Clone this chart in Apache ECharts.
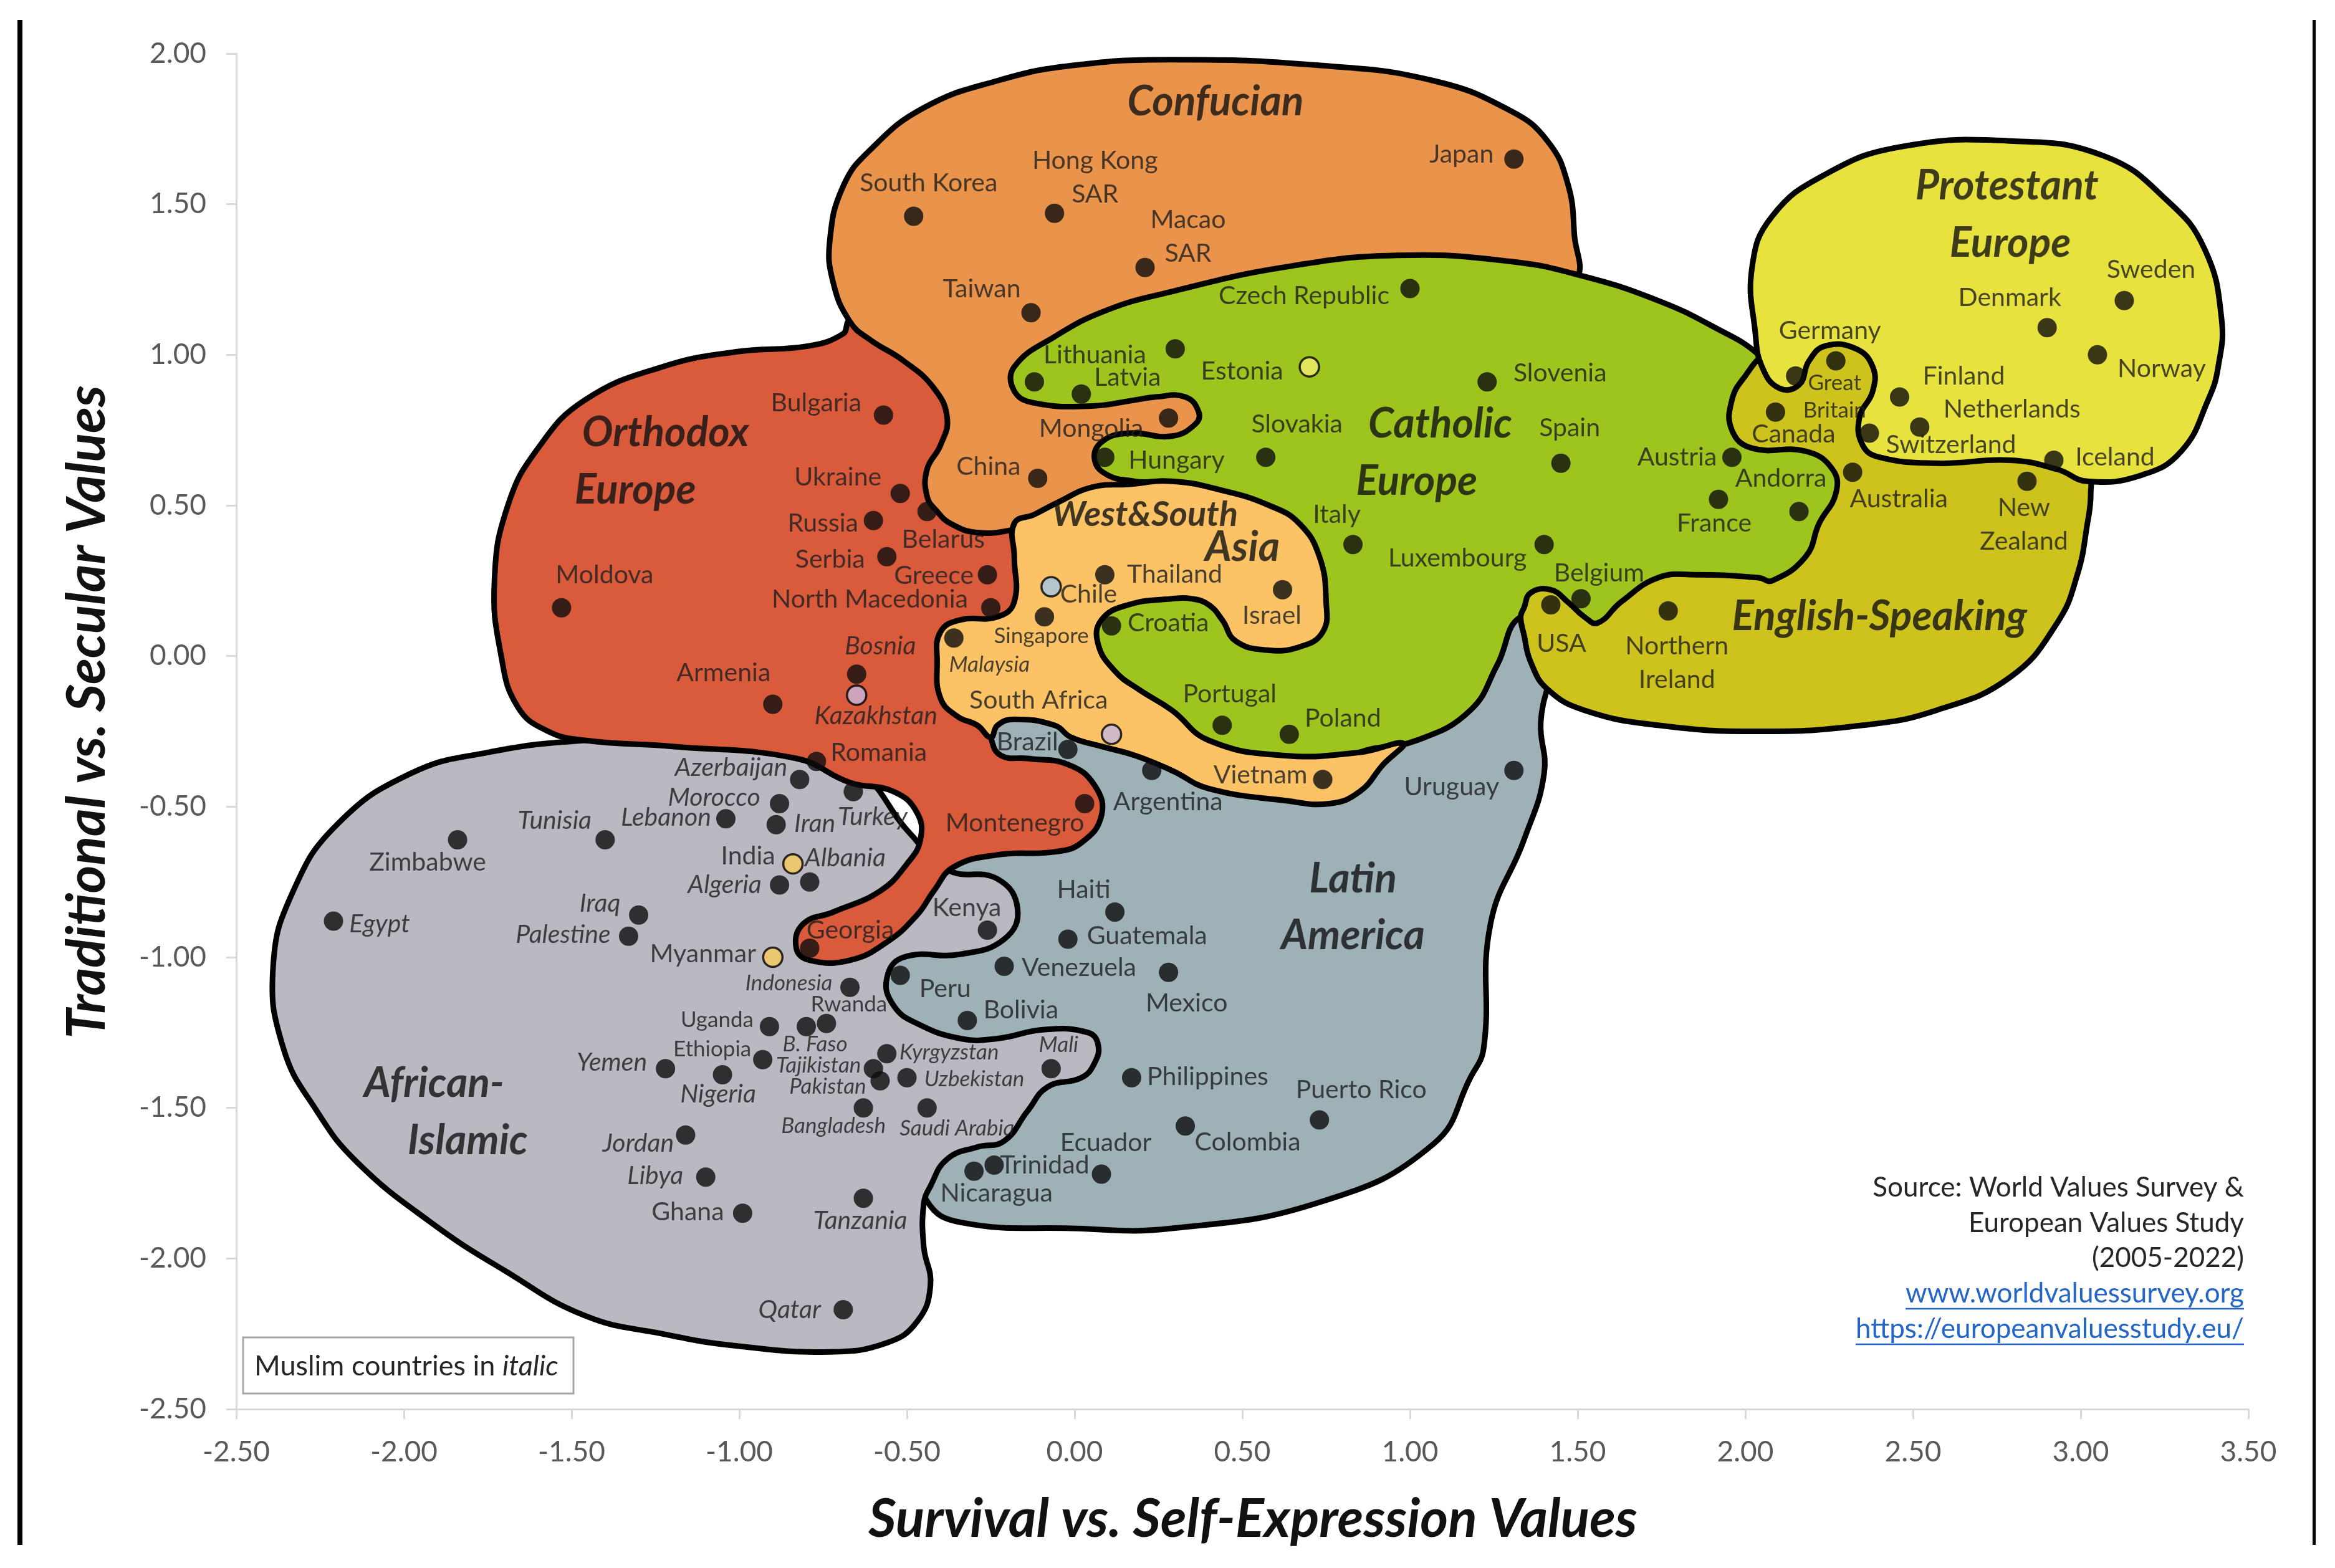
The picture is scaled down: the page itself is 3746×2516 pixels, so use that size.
<!DOCTYPE html>
<html><head><meta charset="utf-8">
<script src="https://cdn.jsdelivr.net/npm/echarts@6/dist/echarts.min.js"></script>
<style>html,body{margin:0;padding:0;background:#fff}#chart{width:3746px;height:2516px}</style>
</head><body><div id="chart"></div>
<script>
// ---------------- DATA ----------------
const countryNames = ['South Korea','Hong Kong SAR','Macao SAR','Taiwan','Japan','China','Mongolia','Lithuania','','Latvia',
 'Estonia','Czech Republic','Slovenia','Slovakia','Hungary','Spain','Austria','Andorra','France','Italy',
 'Luxembourg','Belgium','Croatia','Portugal','Poland','USA','Northern Ireland','Germany','Great Britain','Canada',
 'Australia','New Zealand','Switzerland','Finland','Netherlands','Denmark','Sweden','Norway','Iceland','Bulgaria',
 'Ukraine','Russia','Belarus','Serbia','Greece','North Macedonia','Moldova','Armenia','Bosnia','Kazakhstan',
 'Romania','Montenegro','Georgia','Thailand','Chile','Singapore','Malaysia','Israel','South Africa','Vietnam',
 'Brazil','Argentina','Uruguay','Haiti','Guatemala','Venezuela','Mexico','Peru','Bolivia','Philippines',
 'Puerto Rico','Colombia','Ecuador','Trinidad','Nicaragua','Azerbaijan','Turkey','Morocco','Iran','Lebanon',
 'Tunisia','Zimbabwe','Egypt','India','Albania','Algeria','Iraq','Palestine','Kenya','Myanmar',
 'Indonesia','Rwanda','B. Faso','Uganda','Ethiopia','Yemen','Nigeria','Tajikistan','Kyrgyzstan','Pakistan',
 'Uzbekistan','Mali','Bangladesh','Saudi Arabia','Jordan','Libya','Ghana','Tanzania','Qatar'];
const survivalSelfExpression = [-0.48,-0.06,0.21,-0.13,1.31,-0.11,0.28,0.30,-0.12,0.02,
 0.70,1.00,1.23,0.57,0.09,1.45,1.96,2.16,1.92,0.83,
 1.40,1.51,0.11,0.44,0.64,1.42,1.77,2.15,2.27,2.09,
 2.32,2.84,2.37,2.46,2.52,2.90,3.13,3.05,2.92,-0.57,
 -0.52,-0.60,-0.44,-0.56,-0.26,-0.25,-1.53,-0.90,-0.65,-0.65,
 -0.77,0.03,-0.79,0.09,-0.07,-0.09,-0.36,0.62,0.11,0.74,
 -0.02,0.23,1.31,0.12,-0.02,-0.21,0.28,-0.52,-0.32,0.17,
 0.73,0.33,0.08,-0.24,-0.30,-0.82,-0.66,-0.88,-0.89,-1.04,
 -1.40,-1.84,-2.21,-0.84,-0.79,-0.88,-1.30,-1.33,-0.26,-0.90,
 -0.67,-0.74,-0.80,-0.91,-0.93,-1.22,-1.05,-0.60,-0.56,-0.58,
 -0.50,-0.07,-0.63,-0.44,-1.16,-1.10,-0.99,-0.63,-0.69];
const traditionalSecular = [1.46,1.47,1.29,1.14,1.65,0.59,0.79,1.02,0.91,0.87,
 0.96,1.22,0.91,0.66,0.66,0.64,0.66,0.48,0.52,0.37,
 0.37,0.19,0.10,-0.23,-0.26,0.17,0.15,0.93,0.98,0.81,
 0.61,0.58,0.74,0.86,0.76,1.09,1.18,1.00,0.65,0.80,
 0.54,0.45,0.48,0.33,0.27,0.16,0.16,-0.16,-0.06,-0.13,
 -0.35,-0.49,-0.97,0.27,0.23,0.13,0.06,0.22,-0.26,-0.41,
 -0.31,-0.38,-0.38,-0.85,-0.94,-1.03,-1.05,-1.06,-1.21,-1.40,
 -1.54,-1.56,-1.72,-1.69,-1.71,-0.41,-0.45,-0.49,-0.56,-0.54,
 -0.61,-0.61,-0.88,-0.69,-0.75,-0.76,-0.86,-0.93,-0.91,-1.00,
 -1.10,-1.22,-1.23,-1.23,-1.34,-1.37,-1.39,-1.37,-1.32,-1.41,
 -1.40,-1.37,-1.50,-1.50,-1.59,-1.73,-1.85,-1.80,-2.17];

const xTicks = [-2.5,-2.0,-1.5,-1.0,-0.5,0,0.5,1.0,1.5,2.0,2.5,3.0,3.5];
const yTicks = [-2.5,-2.0,-1.5,-1.0,-0.5,0,0.5,1.0,1.5,2.0];

// cultural zone outlines (data units)
const latinAmericaZone = [[-0.25,-0.27],[-0.23,-0.15],[-0.09,-0.12],[0.26,-0.17],[0.80,-0.25],[1.10,-0.12],[1.33,0.22],[1.42,0.02],[1.39,-0.22],[1.40,-0.39],[1.34,-0.61],[1.24,-0.89],[1.22,-1.30],[1.18,-1.40],[1.07,-1.62],[0.74,-1.81],[0.29,-1.90],[-0.01,-1.90],[-0.34,-1.88],[-0.44,-1.81],[-0.54,-1.53],[-0.60,-1.19],[-0.54,-0.84],[-0.36,-0.59],[-0.27,-0.40]];
const africanIslamicZone = [[-1.46,-0.28],[-1.75,-0.32],[-1.98,-0.39],[-2.20,-0.56],[-2.33,-0.78],[-2.39,-1.03],[-2.36,-1.30],[-2.26,-1.51],[-2.14,-1.68],[-1.92,-1.88],[-1.70,-2.04],[-1.46,-2.19],[-1.23,-2.25],[-1.01,-2.29],[-0.73,-2.31],[-0.56,-2.28],[-0.47,-2.21],[-0.43,-2.09],[-0.45,-1.96],[-0.45,-1.82],[-0.43,-1.76],[-0.38,-1.67],[-0.29,-1.63],[-0.21,-1.61],[-0.14,-1.51],[-0.08,-1.43],[0.02,-1.40],[0.06,-1.35],[0.07,-1.29],[0.04,-1.25],[-0.09,-1.24],[-0.23,-1.27],[-0.34,-1.27],[-0.47,-1.22],[-0.54,-1.16],[-0.56,-1.07],[-0.51,-1.00],[-0.34,-0.99],[-0.21,-0.94],[-0.17,-0.84],[-0.23,-0.74],[-0.38,-0.71],[-0.49,-0.59],[-0.67,-0.37],[-1.11,-0.27]];
const orthodoxZone = [[-0.67,1.11],[-0.69,1.07],[-0.79,1.03],[-1.01,1.01],[-1.23,0.96],[-1.46,0.85],[-1.60,0.69],[-1.69,0.50],[-1.73,0.25],[-1.71,0.00],[-1.66,-0.17],[-1.57,-0.25],[-1.46,-0.28],[-1.20,-0.30],[-0.83,-0.34],[-0.67,-0.42],[-0.54,-0.45],[-0.47,-0.52],[-0.46,-0.61],[-0.50,-0.69],[-0.58,-0.78],[-0.72,-0.85],[-0.81,-0.89],[-0.83,-0.97],[-0.79,-1.01],[-0.67,-1.01],[-0.56,-0.95],[-0.47,-0.86],[-0.42,-0.78],[-0.36,-0.70],[-0.23,-0.66],[-0.06,-0.65],[0.02,-0.62],[0.08,-0.53],[0.06,-0.43],[-0.02,-0.36],[-0.14,-0.34],[-0.22,-0.33],[-0.25,-0.27],[-0.27,-0.15],[-0.34,0.00],[-0.14,0.20],[-0.14,0.42],[-0.31,0.59],[-0.34,0.79],[-0.47,0.99]];
const confucianZone = [[-0.67,1.11],[-0.72,1.24],[-0.73,1.38],[-0.69,1.56],[-0.61,1.68],[-0.45,1.82],[-0.23,1.91],[-0.01,1.96],[0.29,1.98],[0.74,1.96],[1.07,1.91],[1.30,1.81],[1.41,1.71],[1.47,1.57],[1.49,1.40],[1.49,1.24],[1.24,1.04],[0.80,0.99],[0.35,0.69],[0.18,0.52],[-0.09,0.45],[-0.18,0.42],[-0.29,0.41],[-0.37,0.44],[-0.41,0.48],[-0.44,0.53],[-0.44,0.62],[-0.40,0.70],[-0.38,0.79],[-0.42,0.89],[-0.51,0.98],[-0.61,1.05]];
const catholicZone = [[-0.18,0.88],[-0.18,0.96],[-0.06,1.06],[0.10,1.15],[0.29,1.21],[0.62,1.29],[0.96,1.33],[1.30,1.31],[1.52,1.26],[1.74,1.18],[1.91,1.09],[2.04,1.00],[2.13,0.88],[2.24,0.69],[2.31,0.54],[2.24,0.35],[2.04,0.22],[1.69,0.15],[1.56,0.05],[1.44,0.10],[1.33,0.13],[1.26,-0.03],[1.18,-0.18],[1.02,-0.28],[0.85,-0.32],[0.80,-0.37],[0.44,-0.32],[0.22,-0.22],[0.02,0.00],[0.11,0.22],[0.18,0.30],[0.29,0.56],[0.18,0.58],[0.10,0.60],[0.06,0.65],[0.08,0.71],[0.16,0.74],[0.29,0.73],[0.36,0.77],[0.37,0.81],[0.33,0.86],[0.24,0.86],[0.18,0.85],[0.05,0.83],[-0.12,0.84]];
const westSouthAsiaZone = [[-0.18,0.44],[-0.12,0.47],[-0.05,0.51],[0.05,0.56],[0.16,0.57],[0.29,0.58],[0.44,0.55],[0.58,0.50],[0.67,0.44],[0.73,0.33],[0.75,0.18],[0.74,0.08],[0.67,0.03],[0.57,0.02],[0.48,0.05],[0.44,0.12],[0.40,0.17],[0.35,0.19],[0.29,0.19],[0.16,0.17],[0.08,0.12],[0.07,0.04],[0.12,-0.05],[0.19,-0.11],[0.29,-0.18],[0.40,-0.28],[0.62,-0.33],[0.85,-0.32],[0.98,-0.29],[0.92,-0.36],[0.85,-0.45],[0.76,-0.49],[0.63,-0.48],[0.40,-0.44],[0.29,-0.38],[0.18,-0.33],[0.08,-0.30],[-0.01,-0.27],[-0.06,-0.23],[-0.18,-0.21],[-0.23,-0.23],[-0.25,-0.27],[-0.29,-0.23],[-0.35,-0.20],[-0.40,-0.14],[-0.41,-0.02],[-0.40,0.08],[-0.34,0.12],[-0.23,0.13],[-0.18,0.18],[-0.18,0.33]];
const englishSpeakingZone = [[2.00,0.93],[2.06,1.00],[2.26,1.08],[2.41,0.94],[2.42,0.69],[2.58,0.67],[2.80,0.68],[2.93,0.65],[3.02,0.61],[3.03,0.54],[3.02,0.44],[2.99,0.27],[2.93,0.11],[2.79,-0.07],[2.57,-0.18],[2.35,-0.23],[2.04,-0.25],[1.74,-0.23],[1.52,-0.18],[1.41,-0.11],[1.36,-0.02],[1.34,0.07],[1.33,0.13],[1.34,0.16],[1.36,0.21],[1.42,0.22],[1.47,0.18],[1.52,0.13],[1.56,0.11],[1.63,0.18],[1.74,0.26],[1.85,0.27],[2.04,0.26],[2.08,0.25],[2.18,0.33],[2.22,0.44],[2.27,0.54],[2.26,0.62],[2.18,0.68],[2.02,0.69],[1.96,0.75],[1.96,0.85]];
const protestantZone = [[2.05,0.96],[2.03,1.07],[2.02,1.29],[2.08,1.46],[2.24,1.60],[2.46,1.69],[2.79,1.71],[3.07,1.66],[3.26,1.51],[3.37,1.35],[3.42,1.12],[3.41,0.96],[3.38,0.85],[3.30,0.68],[3.18,0.60],[3.02,0.58],[2.93,0.62],[2.79,0.65],[2.57,0.64],[2.40,0.66],[2.35,0.70],[2.34,0.79],[2.38,0.88],[2.38,0.96],[2.33,1.02],[2.24,1.03],[2.19,0.98],[2.16,0.90],[2.10,0.89]];

const zoneLabelText = ['Confucian','Protestant','Europe','Orthodox','Europe','Catholic','Europe','West&South','Asia','English-Speaking','Latin','America','African-','Islamic'];
const zoneLabelX = [0.42,2.78,2.79,-1.22,-1.31,1.09,1.02,0.21,0.50,2.40,0.83,0.83,-1.91,-1.81];
const zoneLabelY = [1.84,1.56,1.37,0.74,0.55,0.77,0.58,0.47,0.36,0.13,-0.74,-0.93,-1.42,-1.61];

// ---------------- STYLE ----------------
const FONT = 'Lato, "Open Sans", sans-serif';
const labelOffset = {
 'South Korea':[24,-53],'Hong Kong SAR':[65,-57],'Macao SAR':[69,-49],'Taiwan':[-79,-38],'Japan':[-84,-7],'China':[-79,-19],
 'Mongolia':[-124,17],'Lithuania':[-129,10],'Latvia':[74,-26],'Estonia':[-108,7],'Czech Republic':[-170,12],'Slovenia':[117,-14],
 'Slovakia':[50,-53],'Hungary':[115,5],'Spain':[14,-57],'Austria':[-88,0],'Andorra':[-29,-53],'France':[-7,38],'Italy':[-26,-48],
 'Luxembourg':[-139,22],'Belgium':[29,-41],'Croatia':[91,-5],'Portugal':[12,-50],'Poland':[86,-26],'USA':[17,62],
 'Northern Ireland':[14,84],'Germany':[55,-72],'Great Britain':[-2,58],'Canada':[29,36],'Australia':[74,43],'New Zealand':[-5,69],
 'Switzerland':[131,19],'Finland':[103,-33],'Netherlands':[148,-29],'Denmark':[-60,-48],'Sweden':[43,-50],'Norway':[103,22],
 'Iceland':[98,-5],'Bulgaria':[-108,-19],'Ukraine':[-100,-26],'Russia':[-81,5],'Belarus':[26,45],'Serbia':[-91,5],'Greece':[-86,2],
 'North Macedonia':[-194,-14],'Moldova':[69,-53],'Armenia':[-79,-50],'Bosnia':[38,-45],'Kazakhstan':[31,33],'Romania':[100,-14],
 'Montenegro':[-112,31],'Georgia':[65,-29],'Thailand':[112,0],'Chile':[60,12],'Singapore':[-5,31],'Malaysia':[57,43],'Israel':[-17,41],
 'South Africa':[-117,-55],'Vietnam':[-100,-7],'Brazil':[-65,-12],'Argentina':[26,50],'Uruguay':[-100,26],'Haiti':[-50,-36],
 'Guatemala':[127,-5],'Venezuela':[120,2],'Mexico':[29,50],'Peru':[72,22],'Bolivia':[86,-17],'Philippines':[122,-2],
 'Puerto Rico':[67,-48],'Colombia':[100,26],'Ecuador':[7,-50],'Trinidad':[81,0],'Nicaragua':[36,36],'Azerbaijan':[-110,-19],
 'Turkey':[31,41],'Morocco':[-105,-10],'Iran':[62,-2],'Lebanon':[-96,-2],'Tunisia':[-81,-31],'Zimbabwe':[-48,36],'Egypt':[74,5],
 'India':[-72,-12],'Albania':[57,-38],'Algeria':[-88,0],'Iraq':[-62,-19],'Palestine':[-105,-2],'Kenya':[-33,-36],'Myanmar':[-112,-5],
 'Indonesia':[-98,-7],'Rwanda':[36,-31],'B. Faso':[14,29],'Uganda':[-84,-10],'Ethiopia':[-81,-17],'Yemen':[-86,-10],'Nigeria':[-7,31],
 'Tajikistan':[-88,-5],'Kyrgyzstan':[100,-2],'Pakistan':[-84,10],'Uzbekistan':[108,2],'Mali':[12,-38],'Bangladesh':[-48,29],
 'Saudi Arabia':[48,33],'Jordan':[-76,14],'Libya':[-81,-2],'Ghana':[-88,-2],'Tanzania':[-5,36],'Qatar':[-86,0]
};
const labelText = {'Hong Kong SAR':'Hong Kong\nSAR','Macao SAR':'Macao\nSAR','Northern Ireland':'Northern\nIreland','Great Britain':'Great\nBritain','New Zealand':'New\nZealand'};
const muslimCountries = new Set(['Bosnia','Kazakhstan','Malaysia','Azerbaijan','Morocco','Lebanon','Iran','Turkey','Tunisia','Albania','Algeria','Iraq','Palestine','Egypt','Indonesia','Yemen','Nigeria','Jordan','Libya','Tajikistan','Kyrgyzstan','Pakistan','Uzbekistan','Bangladesh','Saudi Arabia','Mali','Tanzania','Qatar','B. Faso']);
const condensed = new Set(['Tajikistan','Pakistan','Kyrgyzstan','Uzbekistan','Saudi Arabia','Bangladesh','B. Faso','Rwanda','Uganda','Ethiopia','Indonesia','Malaysia','Singapore','Great Britain','Mali']);
const markerFill = {'Estonia':'#F3EC6E','Chile':'#A4C6E6','Kazakhstan':'#C8B6DE','South Africa':'#C8B6DE','India':'#F8CB5C','Myanmar':'#F8CB5C'};

const zones = [
 [latinAmericaZone,'#9DB1B7'],
 [africanIslamicZone,'#BAB8C1'],
 [orthodoxZone,'#DA5A3C'],
 [confucianZone,'#E9934B'],
 [catholicZone,'#9EC41E'],
 [westSouthAsiaZone,'#FBC266'],
 [englishSpeakingZone,'#CEC21C'],
 [protestantZone,'#E8E23E']
];

const zoneSeries = zones.map(([outline, color], k) => ({
  type: 'custom', coordinateSystem: 'cartesian2d', silent: true, clip: false, z: 2 + k,
  data: [outline[0]], encode: { x: 0, y: 1 },
  renderItem: function (params, api) {
    return { type: 'polygon', shape: { points: outline.map(p => api.coord(p)), smooth: 0.45 },
      style: { fill: color, stroke: '#000', lineWidth: 9 } };
  }
}));

const pointData = countryNames.map((n, i) => {
  const fill = markerFill[n];
  const small = condensed.has(n);
  return {
    name: n,
    value: [survivalSelfExpression[i], traditionalSecular[i]],
    itemStyle: fill ? { color: fill, borderColor: '#000', borderWidth: 3.5 } : { color: '#0d0d0d' },
    label: { offset: labelOffset[n] || [0, 0], fontStyle: muslimCountries.has(n) ? 'italic' : 'normal',
      fontSize: small ? 35 : 41, lineHeight: small ? 44 : 54 }
  };
});

const zoneLabelData = zoneLabelText.map((t, i) => ({
  name: t, value: [zoneLabelX[i], zoneLabelY[i]],
  label: t === 'West&South' ? { fontSize: 56 } : {}
}));

const chart = echarts.init(document.getElementById('chart'), null, { renderer: 'canvas' });

const ctx = document.createElement('canvas').getContext('2d');
ctx.font = '44px Lato';
const link1 = 'www.worldvaluessurvey.org', link2 = 'https://europeanvaluesstudy.eu/';
const w1 = ctx.measureText(link1).width, w2 = ctx.measureText(link2).width;
const srcRight = 3600;
const srcStyle = (text, y, fill) => ({ type: 'text', x: srcRight, y: y, z: 100,
  style: { text: text, fill: fill, fontSize: 44, fontFamily: FONT, align: 'right', verticalAlign: 'middle' } });

chart.setOption({
  animation: false,
  backgroundColor: '#ffffff',
  grid: { left: 379, right: 139, top: 86, bottom: 255, outerBoundsMode: 'none', containLabel: false },
  xAxis: {
    type: 'value', min: xTicks[0], max: xTicks[xTicks.length - 1], interval: 0.5,
    axisLine: { onZero: false, lineStyle: { color: '#D9D9D9', width: 3 } },
    axisTick: { show: true, length: 16, lineStyle: { color: '#D9D9D9', width: 3 } },
    splitLine: { show: false },
    axisLabel: { formatter: v => v.toFixed(2), fontSize: 46, color: '#595959', fontFamily: FONT, margin: 46 },
    name: 'Survival vs. Self-Expression Values', nameLocation: 'middle', nameGap: 134,
    nameTextStyle: { fontSize: 86, fontWeight: 'bold', fontStyle: 'italic', color: '#111', fontFamily: FONT, padding: [0, 0, 0, 34] }
  },
  yAxis: {
    type: 'value', min: yTicks[0], max: yTicks[yTicks.length - 1], interval: 0.5,
    axisLine: { onZero: false, lineStyle: { color: '#D9D9D9', width: 3 } },
    axisTick: { show: true, length: 16, lineStyle: { color: '#D9D9D9', width: 3 } },
    splitLine: { show: false },
    axisLabel: { formatter: v => v.toFixed(2), fontSize: 46, color: '#595959', fontFamily: FONT, margin: 48 },
    name: 'Traditional vs. Secular Values', nameLocation: 'middle', nameGap: 196,
    nameTextStyle: { fontSize: 86, fontWeight: 'bold', fontStyle: 'italic', color: '#111', fontFamily: FONT, padding: [0, 0, 0, 62] }
  },
  series: [
    ...zoneSeries,
    {
      type: 'scatter', silent: true, z: 15, symbolSize: 1,
      itemStyle: { color: 'rgba(0,0,0,0)' },
      label: { show: true, position: 'inside', formatter: p => p.name, fontSize: 66, fontWeight: 'bold',
        fontStyle: 'italic', color: '#111', fontFamily: FONT },
      data: zoneLabelData
    },
    {
      type: 'scatter', silent: true, z: 20, symbolSize: 31,
      label: { show: true, position: 'inside', formatter: p => labelText[p.name] || p.name,
        color: '#1e1e1e', fontFamily: FONT, fontSize: 41 },
      data: pointData
    }
  ],
  graphic: [
    { type: 'rect', z: 100, shape: { x: 28, y: 32, width: 8, height: 2447 }, style: { fill: '#000' } },
    { type: 'rect', z: 100, shape: { x: 3710, y: 32, width: 5, height: 2447 }, style: { fill: '#000' } },
    { type: 'rect', z: 100, shape: { x: 390, y: 2146, width: 530, height: 90 }, style: { fill: '#fff', stroke: '#A6A6A6', lineWidth: 3 } },
    { type: 'text', z: 101, x: 408, y: 2192,
      style: { text: '{a|Muslim countries in }{b|italic}', verticalAlign: 'middle', align: 'left',
        rich: { a: { fontSize: 45, fontFamily: FONT, fill: '#262626' }, b: { fontSize: 45, fontFamily: FONT, fill: '#262626', fontStyle: 'italic' } } } },
    srcStyle('Source: World Values Survey &', 1906, '#262626'),
    srcStyle('European Values Study', 1963, '#262626'),
    srcStyle('(2005-2022)', 2019, '#262626'),
    srcStyle(link1, 2076, '#2366C6'),
    srcStyle(link2, 2133, '#2366C6'),
    { type: 'line', z: 100, shape: { x1: srcRight - w1, y1: 2100, x2: srcRight, y2: 2100 }, style: { stroke: '#2366C6', lineWidth: 2.5 } },
    { type: 'line', z: 100, shape: { x1: srcRight - w2, y1: 2157, x2: srcRight, y2: 2157 }, style: { stroke: '#2366C6', lineWidth: 2.5 } }
  ]
});
</script>
</body></html>
